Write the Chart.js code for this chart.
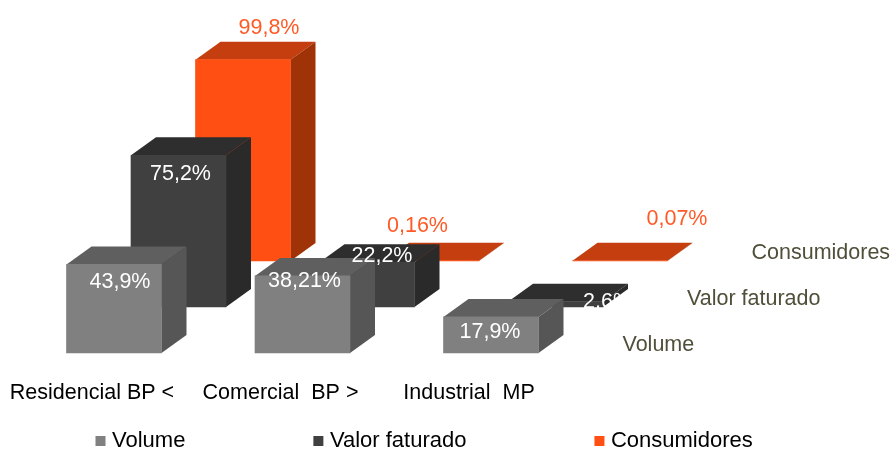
<!DOCTYPE html>
<html>
<head>
<meta charset="utf-8">
<style>html,body{margin:0;padding:0;background:#fff}#w{width:894px;height:449px}</style>
<script src="https://cdn.jsdelivr.net/npm/chart.js@4"></script>
</head>
<body>
<div id="w"><canvas id="c"></canvas></div>
<script>
const categories = ['Residencial BP <', 'Comercial  BP >', 'Industrial  MP'];
const seriesNames = ['Volume', 'Valor faturado', 'Consumidores'];
const volume = [43.9, 38.21, 17.9];
const valorFaturado = [75.2, 22.2, 2.6];
const consumidores = [99.8, 0.16, 0.07];
const volumeLabels = ['43,9%', '38,21%', '17,9%'];
const valorLabels = ['75,2%', '22,2%', '2,6%'];
const consumidoresLabels = ['99,8%', '0,16%', '0,07%'];

const FONT = "'Liberation Sans', Arial, sans-serif";
const SIZE = 21.5;
const LEGEND_GAP = 132.5;
const front = ['#808080', '#404040', '#FF4F12'];
const topFace = ['#5F5F5F', '#2E2E2E', '#C43E10'];
const sideFace = ['#565656', '#2A2A2A', '#A03208'];
const labelColor = ['#FFFFFF', '#FFFFFF', '#FF5A26'];
const allLabels = [volumeLabels, valorLabels, consumidoresLabels];
// per-label placement tweaks [dx from bar centre, dy from bar top]
const nudges = [
  [[6, 18], [2, 5], [-1, 15]],
  [[2, 19], [15, -6], [52, 0]],
  [[26, -32], [-14, -35], [57, -42]]
];
const depth = {x: 25, y: -18};
const rowShift = k => ({x: 22 + 64.5 * k, y: -46 * k});

const threeD = {
  id: 'threeD',
  beforeLayout(chart) {
    const l = chart.legend;
    if (l && !l.$wrapped) {
      l.$wrapped = true;
      const fit = l.fit.bind(l);
      l.fit = () => { l.maxWidth = 2000; fit(); l.maxWidth = 894; l.width = 894; l.height = 30; };
    }
  },
  afterLayout(chart) {
    const l = chart.legend;
    l.left = 100 - LEGEND_GAP; l.right = 2000;
    l.top = 441 - 11 - LEGEND_GAP;
  },
  beforeDatasetDraw(chart, args) {
    const k = args.index, ctx = chart.ctx, s = rowShift(k);
    ctx.save();
    ctx.translate(s.x, s.y);
    chart.getDatasetMeta(k).data.forEach(el => {
      const p = el.getProps(['x', 'y', 'base', 'width'], true);
      const L = p.x - p.width / 2, R = p.x + p.width / 2;
      ctx.fillStyle = topFace[k];
      ctx.beginPath();
      ctx.moveTo(L, p.y); ctx.lineTo(L + depth.x, p.y + depth.y);
      ctx.lineTo(R + depth.x, p.y + depth.y); ctx.lineTo(R, p.y);
      ctx.closePath(); ctx.fill();
      ctx.fillStyle = sideFace[k];
      ctx.beginPath();
      ctx.moveTo(R, p.y); ctx.lineTo(R + depth.x, p.y + depth.y);
      ctx.lineTo(R + depth.x, p.base + depth.y); ctx.lineTo(R, p.base);
      ctx.closePath(); ctx.fill();
    });
  },
  afterDatasetDraw(chart) { chart.ctx.restore(); },
  afterDatasetsDraw(chart) {
    const ctx = chart.ctx;
    ctx.save();
    ctx.textAlign = 'center';
    ctx.textBaseline = 'middle';
    ctx.font = SIZE + 'px ' + FONT;
    [2, 1, 0].forEach(k => {
      const s = rowShift(k);
      chart.getDatasetMeta(k).data.forEach((el, i) => {
        const p = el.getProps(['x', 'y'], true);
        ctx.fillStyle = labelColor[k];
        ctx.fillText(allLabels[k][i], p.x + s.x + nudges[k][i][0], p.y + s.y + nudges[k][i][1]);
      });
      // series name along the depth axis
      const last = chart.getDatasetMeta(k).data[categories.length - 1];
      const b = last.getProps(['x', 'base', 'width'], true);
      ctx.fillStyle = '#4F4F3A';
      ctx.textAlign = 'left';
      ctx.fillText(seriesNames[k], b.x + b.width / 2 + s.x + 84, b.base + s.y - 8);
      ctx.textAlign = 'center';
    });
    ctx.restore();
  }
};

const mk = (k, data) => ({
  label: seriesNames[k], data,
  backgroundColor: front[k], borderWidth: 0,
  barThickness: 95, clip: false
});

new Chart(document.getElementById('c'), {
  type: 'bar',
  data: {
    labels: categories,
    datasets: [mk(0, volume), mk(1, valorFaturado), mk(2, consumidores)]
  },
  plugins: [threeD],
  options: {
    responsive: true,
    maintainAspectRatio: false,
    animation: false,
    datasets: {bar: {grouped: false}},
    layout: {padding: 0},
    scales: {
      x: {
        offset: false,
        grid: {display: false, drawTicks: false},
        border: {display: false},
        ticks: {
          color: '#000', autoSkip: false, maxRotation: 0, minRotation: 0, padding: 27,
          font: {family: FONT, size: SIZE}
        },
        afterFit(s) { s.height = 66; s.paddingLeft = 0; s.paddingRight = 0; }
      },
      y: {
        display: false, min: 0, max: 175,
        afterFit(s) { s.width = 92; }
      },
      rightGap: {
        display: false, position: 'right', min: 0, max: 1,
        afterFit(s) { s.width = 425; }
      }
    },
    plugins: {
      tooltip: {enabled: false},
      legend: {
        display: true,
        position: 'bottom',
        align: 'start',
        labels: {
          color: '#000',
          padding: LEGEND_GAP,
          boxWidth: 1,
          boxHeight: 1,
          font: {family: FONT, size: 22},
          generateLabels: c => c.data.datasets.map((d, i) => ({
            text: d.label, fillStyle: front[i], strokeStyle: front[i],
            lineWidth: 9, lineCap: 'butt', lineJoin: 'miter', hidden: false, datasetIndex: i
          }))
        }
      }
    }
  }
});
</script>
</body>
</html>
